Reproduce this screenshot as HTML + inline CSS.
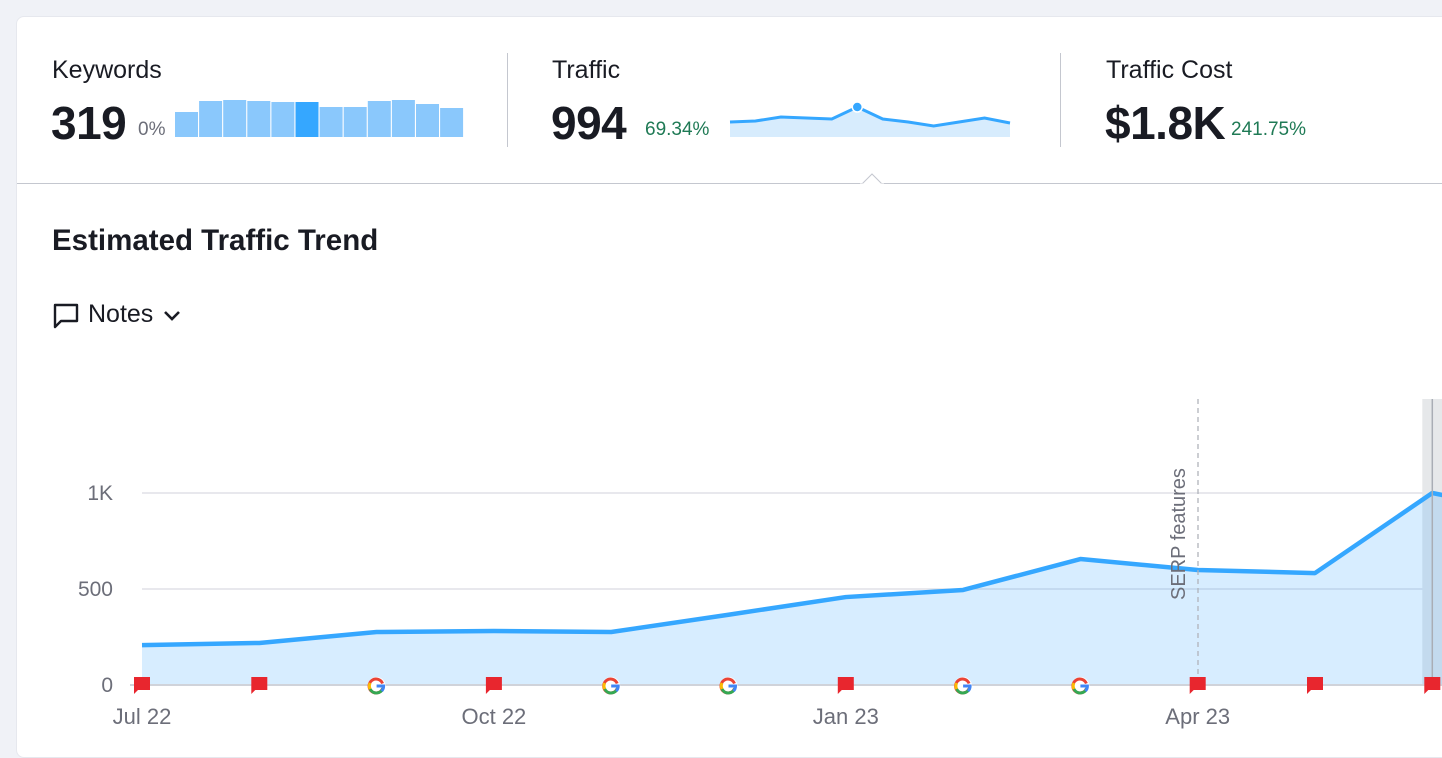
<!DOCTYPE html>
<html><head><meta charset="utf-8"><style>
body{margin:0;width:1442px;height:746px;background:#f0f2f7;font-family:"Liberation Sans",sans-serif;overflow:hidden;position:relative}
.card{position:absolute;left:16px;top:16px;width:1440px;height:740px;background:#fff;border-radius:8px;border:1px solid #e6e8ee}
.abs{position:absolute}
.lbl{font-size:25px;color:#191b23}
.big{font-size:46px;font-weight:bold;color:#191b23;letter-spacing:-0.5px}
.pct{font-size:19px}
</style></head><body>
<div class="card"></div>
<div class="abs lbl" style="left:52px;top:56px">Keywords</div>
<div class="abs big" style="left:51px;top:96px">319</div>
<div class="abs pct" style="left:138px;top:119px;color:#6c6e79">0%</div>
<div class="abs" style="left:507px;top:53px;width:1px;height:94px;background:#c4c7cf"></div>
<div class="abs lbl" style="left:552px;top:56px">Traffic</div>
<div class="abs big" style="left:551px;top:96px">994</div>
<div class="abs pct" style="left:645px;top:119px;color:#1f7a55">69.34%</div>
<div class="abs" style="left:1060px;top:53px;width:1px;height:94px;background:#c4c7cf"></div>
<div class="abs lbl" style="left:1106px;top:56px">Traffic Cost</div>
<div class="abs big" style="left:1105px;top:96px">$1.8K</div>
<div class="abs pct" style="left:1231px;top:119px;color:#1f7a55">241.75%</div>
<div class="abs" style="left:17px;top:183px;width:1425px;height:1px;background:#c4c7cf"></div>
<svg class="abs" style="left:860px;top:172px" width="24" height="14"><path d="M1 13 L12 2 L23 13" fill="#fff" stroke="#c4c7cf"/><rect x="0" y="11.5" width="24" height="3" fill="#fff"/></svg>
<div class="abs" style="left:52px;top:224px;font-size:29.5px;font-weight:bold;color:#191b23">Estimated Traffic Trend</div>
<div class="abs" style="left:52px;top:300px;font-size:25px;color:#191b23;display:flex;align-items:center;gap:8px">
<svg width="28" height="28" viewBox="0 0 28 28"><path d="M3 4 H25 V20 H9 L3 26 Z" fill="none" stroke="#191b23" stroke-width="2.4" stroke-linejoin="round"/></svg>
<span>Notes</span>
<svg width="22" height="20"><path d="M4 7 L11 14 L18 7" fill="none" stroke="#191b23" stroke-width="2.6"/></svg></div>
<svg id="spark" class="abs" style="left:0;top:0" width="1442" height="746"></svg>
<svg id="chart" class="abs" style="left:0;top:0" width="1442" height="746"></svg>
<script>
const kwBars=[25,36,37,36,35,35,30,30,36,37,33,29];
const trafficSpark=[15,16,20,19,18,30,18,15,11,15,19,14];
const sparkSelected=5;
const months=["Jul 22","Aug 22","Sep 22","Oct 22","Nov 22","Dec 22","Jan 23","Feb 23","Mar 23","Apr 23","May 23","Jun 23","Jul 23"];
const traffic=[208,219,276,281,276,366,458,495,656,599,583,1000,880];
const yTicks=[0,500,1000];
const yTickLabels=["0","500","1K"];
const xTickIdx=[0,3,6,9];
const markers=["flag","flag","google","flag","google","google","flag","google","google","flag","flag","flag"];
const NS="http://www.w3.org/2000/svg";
function mk(p,t,a){const e=document.createElementNS(NS,t);for(const k in a)e.setAttribute(k,a[k]);p.appendChild(e);return e;}
const sp=document.getElementById('spark');
kwBars.forEach((v,i)=>{const h=v;const r=mk(sp,'rect',{x:175+i*24.1,y:137-h,width:23,height:h,fill:i===sparkSelected?'#35a7ff':'#8ac8fc'});

});
const sx=i=>730+i*(280/11), sy=v=>137-v;
let sl='',sa='M730 137';
trafficSpark.forEach((v,i)=>{sl+=(i?'L':'M')+sx(i)+' '+sy(v);sa+='L'+sx(i)+' '+sy(v);});
sa+='L1010 137Z';
const spa=mk(sp,'path',{d:sa,fill:'#d7ecfd'});


const spl=mk(sp,'path',{d:sl,fill:'none',stroke:'#35a7ff','stroke-width':3});


const dot=mk(sp,'circle',{cx:sx(sparkSelected),cy:sy(trafficSpark[sparkSelected]),r:5,fill:'#35a7ff',stroke:'#fff','stroke-width':1.5});


const c=document.getElementById('chart');
const X=i=>142+i*117.3, Y=v=>685-v*0.192;
yTicks.forEach((t,k)=>{const g=mk(c,'line',{x1:142,x2:1442,y1:Y(t),y2:Y(t),stroke:'#d9dbe2','stroke-width':1.3});


const tx=mk(c,'text',{x:113,y:Y(t)+7,'text-anchor':'end','font-size':21,fill:'#6c6e79'});tx.textContent=yTickLabels[k];

});
const hl=mk(c,'rect',{x:X(11)-10,y:399,width:20,height:286,fill:'#e6e8ea'});


let d='',a='M'+X(0)+' '+Y(0);
traffic.forEach((v,i)=>{d+=(i?'L':'M')+X(i)+' '+Y(v);a+='L'+X(i)+' '+Y(v);});
a+='L'+X(traffic.length-1)+' '+Y(0)+'Z';
const ar=mk(c,'path',{d:a,fill:'rgba(53,167,255,0.2)'});


const ln=mk(c,'path',{d:d,fill:'none',stroke:'#35a7ff','stroke-width':4.5,'stroke-linejoin':'round'});


const hv=mk(c,'line',{x1:X(11),x2:X(11),y1:399,y2:685,stroke:'#a9adb5','stroke-width':1.5});


const sv=mk(c,'line',{x1:1198,x2:1198,y1:399,y2:685,stroke:'#b0b3bb','stroke-width':1.3,'stroke-dasharray':'5 4'});


const st=mk(c,'text',{x:0,y:0,'font-size':20,fill:'#6c6e79',transform:'translate(1185,600) rotate(-90)'});st.textContent='SERP features';


const ax=mk(c,'line',{x1:130,x2:1442,y1:685,y2:685,stroke:'#d0d3da','stroke-width':2});


xTickIdx.forEach(i=>{const t=mk(c,'text',{x:X(i),y:724,'text-anchor':'middle','font-size':22,fill:'#6c6e79'});t.textContent=months[i];

});
markers.forEach((m,i)=>{const x=X(i);const g=mk(c,'g',{});


if(m==='flag'){mk(g,'path',{d:`M${x-8} 677 H${x+8} V690 H${x-4} L${x-8} 694 Z`,fill:'#e8262e'});}
else{mk(g,'circle',{cx:x,cy:686,r:9,fill:'#fff'});
mk(g,'path',{d:`M${x+6} 683.5 A7 7 0 1 0 ${x+6} 688.5`,fill:'none',stroke:'#ea4335','stroke-width':3});
mk(g,'path',{d:`M${x-6.5} 689 A7 7 0 0 0 ${x+6.5} 688`,fill:'none',stroke:'#34a853','stroke-width':3});
mk(g,'path',{d:`M${x-6.5} 683 A7 7 0 0 0 ${x-6.5} 689`,fill:'none',stroke:'#fbbc05','stroke-width':3});
mk(g,'path',{d:`M${x} 686 H${x+7} A7 7 0 0 1 ${x+5} 691`,fill:'none',stroke:'#4285f4','stroke-width':3});}});
</script>
</body></html>
